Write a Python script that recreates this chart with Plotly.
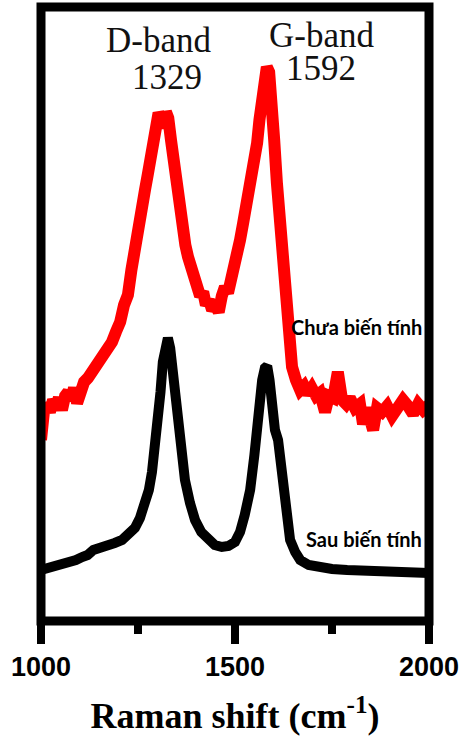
import plotly.graph_objects as go

# Raman shift (cm-1) and intensity (a.u.)
red_x = [1000, 1002, 1008, 1015, 1023, 1031, 1039, 1046, 1054, 1062, 1070, 1077, 1085, 1093, 1101,
         1111, 1121, 1131, 1142, 1152, 1162, 1173, 1183, 1193, 1204, 1214, 1224, 1233, 1242, 1250,
         1258, 1268, 1275, 1282, 1289, 1297, 1303, 1310, 1316, 1322, 1328, 1335, 1345, 1355, 1363,
         1372, 1379, 1390, 1400, 1410, 1418, 1425, 1433, 1441, 1450, 1458, 1466, 1474, 1482, 1490,
         1498, 1505, 1513, 1521, 1530, 1539, 1548, 1557, 1563, 1570, 1576, 1582, 1588, 1595, 1601,
         1608, 1615, 1621, 1628, 1634, 1640, 1647, 1657, 1668, 1678, 1688, 1698, 1709, 1719, 1732,
         1742, 1753, 1765, 1776, 1786, 1796, 1809, 1822, 1830, 1840, 1856, 1866, 1879, 1892, 1905,
         1918, 1933, 1946, 1959, 1972, 1985, 1997, 2000]
red_y = [181, 206, 211, 217, 209, 221, 215, 223, 211, 225, 229, 221, 233, 218, 231,
         239, 243, 249, 253, 257, 263, 269, 279, 289, 299, 316, 326, 351, 376, 399,
         416, 431, 446, 463, 481, 496, 508, 503, 493, 509, 503, 481, 448, 416, 391,
         376, 364, 346, 334, 325, 329, 316, 321, 311, 316, 309, 325, 334, 328, 346,
         351, 364, 381, 398, 416, 431, 453, 478, 501, 521, 541, 554, 549, 521, 481,
         438, 401, 364, 331, 304, 276, 254, 241, 231, 235, 227, 233, 225, 228, 209,
         225, 223, 249, 221, 217, 223, 213, 217, 197, 213, 191, 213, 209, 215, 205,
         213, 221, 215, 207, 217, 211, 215, 213]

black_x = [1000, 1020, 1040, 1054, 1070, 1090, 1106, 1120, 1135, 1157, 1175, 1190, 1209, 1225, 1242,
           1255, 1268, 1278, 1286, 1294, 1302, 1308, 1314, 1320, 1327, 1333, 1340, 1346, 1353, 1362,
           1371, 1384, 1397, 1413, 1430, 1448, 1466, 1483, 1500, 1513, 1525, 1539, 1550, 1557, 1564,
           1570, 1577, 1583, 1589, 1595, 1603, 1611, 1618, 1624, 1633, 1642, 1655, 1668, 1690, 1711,
           1750, 1789, 1830, 1874, 1920, 1960, 2000]
black_y = [51, 53, 54, 56, 59, 61, 64, 66, 71, 73, 76, 78, 81, 86, 93,
           103, 116, 131, 149, 173, 201, 229, 259, 278, 283, 273, 249, 221, 191, 163,
           141, 118, 101, 89, 81, 76, 74, 75, 79, 89, 106, 131, 166, 198, 223,
           241, 253, 255, 241, 206, 191, 181, 156, 131, 103, 81, 69, 61, 56, 54,
           52, 51, 50, 49, 48, 49, 48]

x_ticks = [1000, 1500, 2000]
x_minor = [1250, 1750]

fig = go.Figure()
fig.add_trace(go.Scatter(x=red_x, y=red_y, mode="lines",
                         line=dict(color="#ff0000", width=12), showlegend=False))
fig.add_trace(go.Scatter(x=black_x, y=black_y, mode="lines",
                         line=dict(color="#000000", width=10), showlegend=False))

serif = "Liberation Serif, Times New Roman, serif"
ann = [
    dict(x=1304, y=581, text="D-band", font=dict(family=serif, size=35, color="#111")),
    dict(x=1325, y=544, text="1329", font=dict(family=serif, size=35, color="#111")),
    dict(x=1724, y=586, text="G-band", font=dict(family=serif, size=35, color="#111")),
    dict(x=1722, y=553, text="1592", font=dict(family=serif, size=35, color="#111")),
    dict(x=1814, y=294, text="Chưa biến tính",
         font=dict(family="Lato", size=20, color="#000", weight="bold")),
    dict(x=1832, y=82, text="Sau biến tính",
         font=dict(family="Lato", size=20, color="#000", weight="bold")),
]
for a in ann:
    a.update(xref="x", yref="y", showarrow=False, xanchor="center", yanchor="middle")
fig.update_layout(annotations=ann)

# plot frame, centred on the plot-area edges
fig.add_shape(type="rect", xref="paper", yref="paper", x0=0, x1=1, y0=0, y1=1,
              line=dict(color="black", width=9), fillcolor="rgba(0,0,0,0)", layer="above")

fig.update_layout(
    width=459, height=740,
    margin=dict(l=41, r=30, t=7, b=119, autoexpand=False),
    paper_bgcolor="white", plot_bgcolor="white",
    xaxis=dict(range=[1000, 2000], tickvals=x_ticks, ticktext=[str(v) for v in x_ticks],
               showgrid=False, zeroline=False, showline=False, automargin=False,
               ticks="outside", ticklen=22, tickwidth=8,
               tickcolor="black", ticklabeloverflow="allow",
               minor=dict(tickvals=x_minor, ticks="outside", ticklen=12, tickwidth=8, tickcolor="black"),
               tickfont=dict(family="Liberation Sans, Arial", size=27, color="black", weight="bold"),
               title=dict(text="Raman shift (cm<sup>-1</sup>)",
                          font=dict(family=serif, size=36, color="black", weight="bold"), standoff=21)),
    yaxis=dict(range=[0, 614], showgrid=False, zeroline=False, showline=False,
               automargin=False, showticklabels=False, ticks=""),
)
fig.write_html("out.html", config={"displayModeBar": False},
               post_script="document.body.style.margin='0';")
